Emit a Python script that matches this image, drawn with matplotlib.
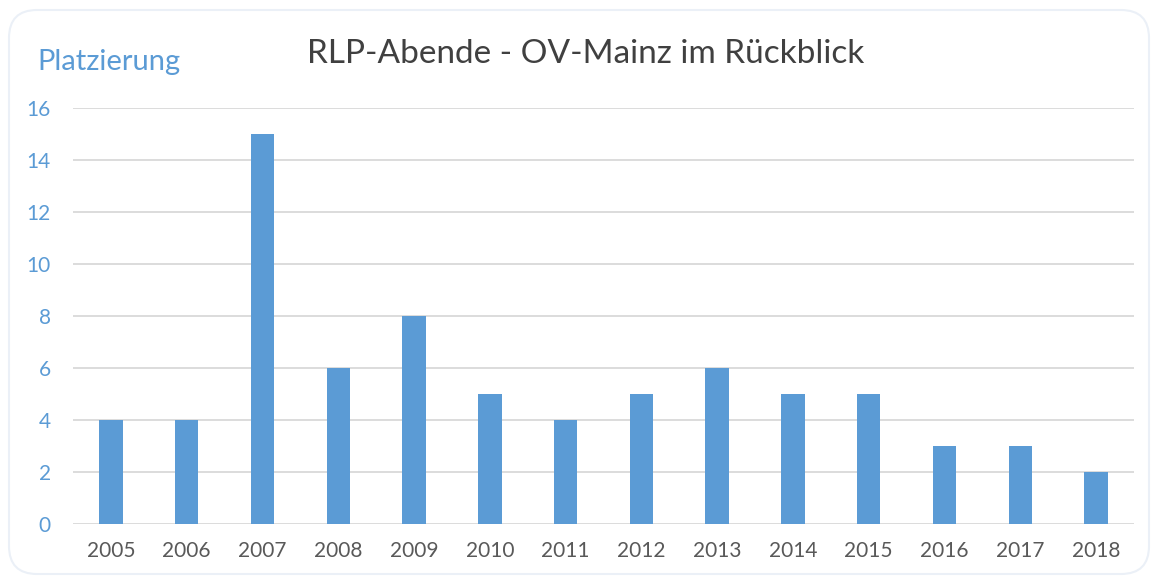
import matplotlib
matplotlib.use('Agg')
import matplotlib.pyplot as plt
from matplotlib.patches import FancyBboxPatch
from matplotlib.transforms import IdentityTransform

years = ['2005', '2006', '2007', '2008', '2009', '2010', '2011',
         '2012', '2013', '2014', '2015', '2016', '2017', '2018']
platz = [4, 4, 15, 6, 8, 5, 4, 5, 6, 5, 5, 3, 3, 2]
yticks = [0, 2, 4, 6, 8, 10, 12, 14, 16]

BLUE = '#5B9BD5'
plt.rcParams['font.family'] = ['Lato', 'DejaVu Sans']

fig = plt.figure(figsize=(11.51, 5.76), dpi=100)
ax = fig.add_axes([73 / 1151, 1 - 524 / 576, (1134 - 73) / 1151, (524 - 108) / 576])

# chart frame with rounded corners (pixel coordinates)
frame = FancyBboxPatch((9, 2), 1140, 564,
                       boxstyle='round,pad=0,rounding_size=28',
                       transform=IdentityTransform(), facecolor='none',
                       edgecolor='#EBF0F7', linewidth=1.5, zorder=0)
fig.patches.append(frame)

x = range(len(years))
ax.bar(x, platz, width=0.31, color=BLUE, zorder=3)

ax.set_xlim(-0.5, len(years) - 0.5)
ax.set_ylim(0, 16)
ax.set_yticks(yticks)
ax.set_xticks(list(x))
ax.set_xticklabels(years)
ax.grid(axis='y', color='#D9D9D9', linewidth=1.3, zorder=0)
for s in ax.spines.values():
    s.set_visible(False)
ax.tick_params(axis='both', length=0, labelsize=15)
ax.tick_params(axis='y', colors=BLUE, pad=16)
ax.tick_params(axis='x', colors='#595959', pad=12)

fig.text(586 / 1151, 1 - 54 / 576, 'RLP-Abende - OV-Mainz im Rückblick',
         ha='center', va='center', fontsize=24, color='#404040')
fig.text(37 / 1151, 1 - 62 / 576, 'Platzierung',
         ha='left', va='center', fontsize=21, color=BLUE)

fig.savefig('out.png', dpi=100)
